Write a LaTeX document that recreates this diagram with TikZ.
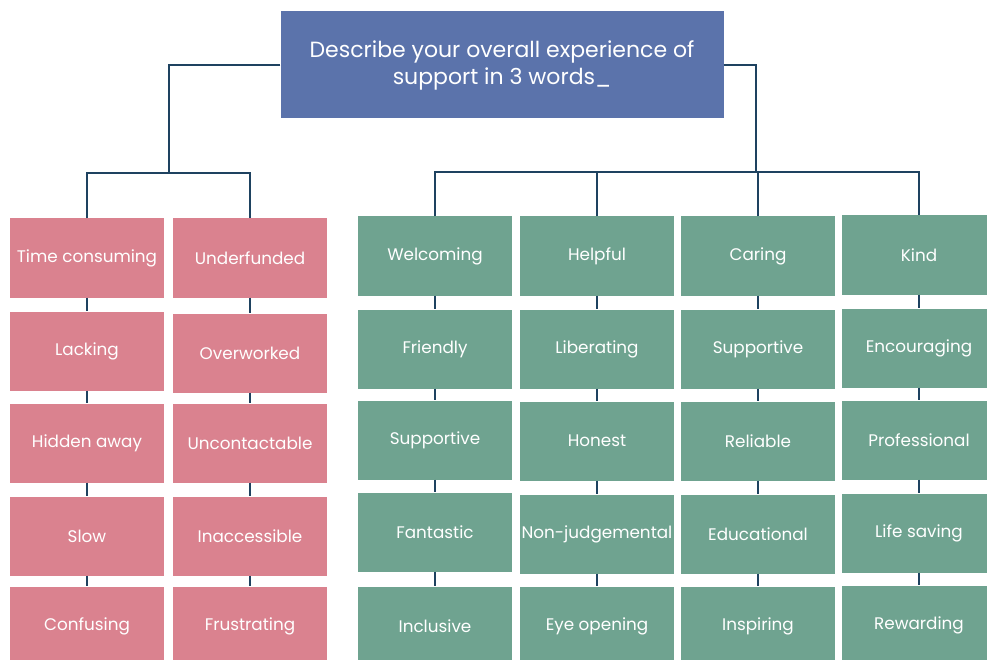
\documentclass[tikz,border=0pt]{standalone}
\usepackage{fontspec}
\setmainfont{Poppins}

\definecolor{titleblue}{HTML}{5B73AB}
\definecolor{negpink}{HTML}{DA828F}
\definecolor{posgreen}{HTML}{6FA390}
\definecolor{linkline}{HTML}{1E4260}

\tikzset{
  word/.style={minimum width=154pt, minimum height=79pt, inner sep=0pt,
    text=white, font=\fontsize{16.8}{20}\selectfont},
  negword/.style={word, fill=negpink},
  posword/.style={word, fill=posgreen},
  link/.style={linkline, line width=2.4pt}
}

\begin{document}
\begin{tikzpicture}[x=1pt,y=-1pt]
  \useasboundingbox (0,0) rectangle (987,660);
  \clip (0,0) rectangle (987,660);

  % question
  \node[fill=titleblue, minimum width=443pt, minimum height=107pt, inner sep=0pt,
        align=center, text=white, font=\fontsize{22}{27}\selectfont]
        (title) at (502,65) {Describe your overall experience of\\support in 3 words\_};

  % negative words
  \foreach \w/\y [count=\i] in {Time consuming/258, Lacking/351, Hidden away/443, Slow/536, Confusing/626}
    \node[negword] (neg1\i) at (87,\y) {\w};
  \foreach \w/\y [count=\i] in {Underfunded/258, Overworked/353, Uncontactable/443, Inaccessible/536, Frustrating/626}
    \node[negword] (neg2\i) at (250,\y) {\w};

  % positive words
  \foreach \w/\y [count=\i] in {Welcoming/256, Friendly/349, Supportive/440, Fantastic/532, Inclusive/626}
    \node[posword] (pos1\i) at (435,\y) {\w};
  \foreach \w/\y [count=\i] in {Helpful/256, Liberating/349, Honest/441, Non-judgemental/534, Eye opening/626}
    \node[posword] (pos2\i) at (597,\y) {\w};
  \foreach \w/\y [count=\i] in {Caring/256, Supportive/349, Reliable/441, Educational/534, Inspiring/626}
    \node[posword] (pos3\i) at (758,\y) {\w};
  \foreach \w/\y [count=\i] in {Kind/255, Encouraging/348, Professional/440, Life saving/533, Rewarding/625}
    \node[posword] (pos4\i) at (919,\y) {\w};

  % branches
  \coordinate (lj) at (169,173);
  \coordinate (rj) at (756,172);
  \draw[link] (title.west) -| (lj);
  \draw[link] (neg11.north) |- (lj) -| (neg21.north);
  \draw[link] (title.east) -| (rj);
  \draw[link] (pos11.north) |- (rj) -| (pos41.north);
  \draw[link] (pos21.north) -- (pos21.north |- rj);
  \draw[link] (pos31.north) -- (pos31.north |- rj);

  % columns
  \foreach \c in {1,2}
    \foreach \i/\j in {1/2,2/3,3/4,4/5}
      \draw[link] (neg\c\i.south) -- (neg\c\j.north);
  \foreach \c in {1,...,4}
    \foreach \i/\j in {1/2,2/3,3/4,4/5}
      \draw[link] (pos\c\i.south) -- (pos\c\j.north);
\end{tikzpicture}
\end{document}
